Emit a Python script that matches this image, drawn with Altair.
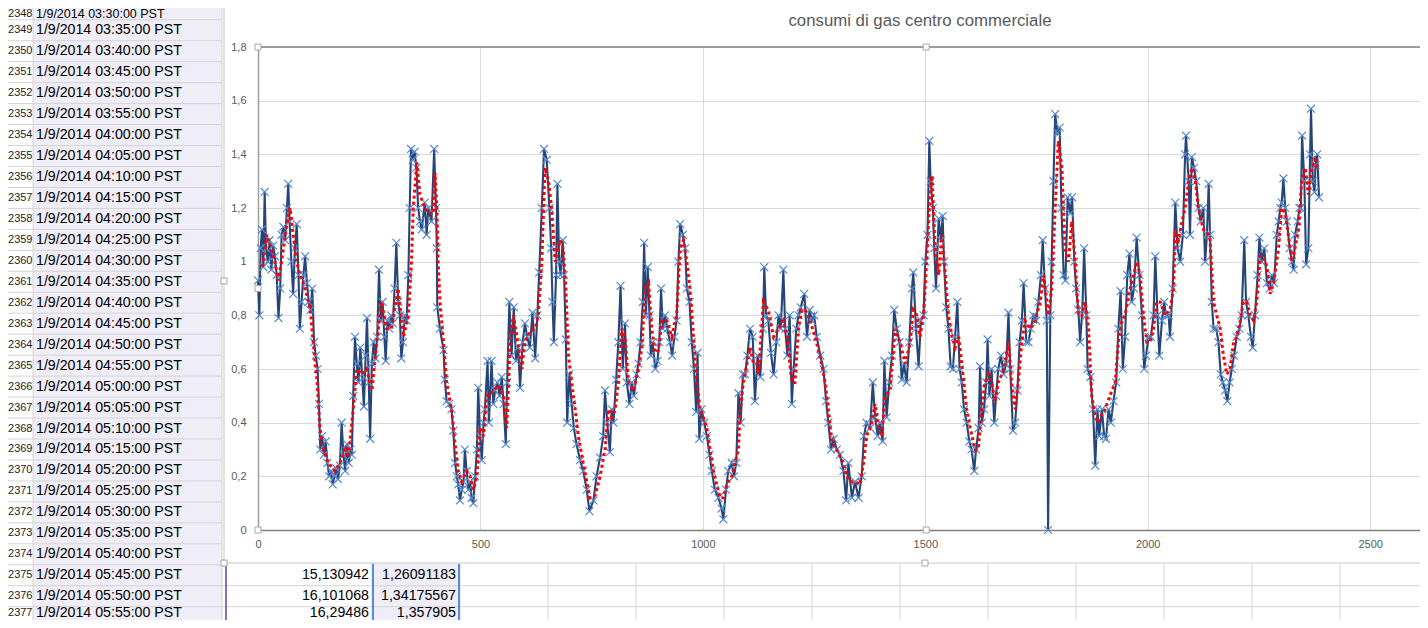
import altair as alt
import pandas as pd

# ---------------- chart data ----------------
title_text = "consumi di gas centro commerciale"
x_ticks = [0, 500, 1000, 1500, 2000, 2500]
y_ticks = [0, 0.2, 0.4, 0.6, 0.8, 1, 1.2, 1.4, 1.6, 1.8]

# blue series (measured consumption), several segments of (x, value)
blue_a = [(0,0.93),(3,0.80),(6,1.05),(9,1.12),(12,0.98),(15,1.26),(18,1.05),(22,1.00),(26,1.08),(30,0.97),
          (34,1.06),(38,1.02),(42,0.95),(46,0.79),(50,0.90),(53,1.10),(57,1.13),(61,1.08),(65,1.20),(68,1.29),
          (71,1.15),(75,1.00),(79,0.88),(83,1.05),(87,1.14),(91,0.95),(94,0.75),(98,0.85),(102,0.95),(106,1.02),
          (110,0.92),(114,0.85),(118,0.82),(122,0.90),(126,0.70),(130,0.65),(134,0.60),(137,0.47),(140,0.30),(144,0.35),
          (148,0.28),(152,0.33),(156,0.25),(160,0.20),(164,0.22),(168,0.17),(172,0.20),(176,0.23),(180,0.19),(184,0.24),
          (188,0.40),(192,0.28),(196,0.22),(200,0.32),(204,0.25),(208,0.30),(211,0.28),(214,0.50),(218,0.72),(222,0.62),
          (226,0.55),(230,0.68),(234,0.58),(238,0.46),(242,0.65),(245,0.79),(249,0.55),(252,0.34),(256,0.62),(260,0.70),
          (264,0.64),(268,0.72),(272,0.97),(276,0.78),(280,0.85),(284,0.72),(287,0.63),(291,0.78),(295,0.75),(299,0.80),
          (303,0.77),(307,0.90),(311,1.07),(315,0.85),(319,0.80),(322,0.64),(326,0.70),(330,0.80),(334,0.78),(338,0.95),
          (341,1.20),(344,1.42),(348,1.38),(352,1.41),(356,1.35),(360,1.20)]
blue_b = [(364,1.15),(368,1.12),(375,1.22),(379,1.10),(383,1.20),(390,1.15),(396,1.42),(400,1.20),(402,1.05),(403,0.83),
          (409,0.75),(417,0.67),(420,0.56),(424,0.48),(430,0.47),(435,0.45),(439,0.37),(443,0.25),(447,0.20),(450,0.17),
          (454,0.11),(458,0.15),(462,0.18),(465,0.30),(469,0.22),(473,0.15),(477,0.18),(480,0.12),(484,0.10),(488,0.20),
          (492,0.30),(495,0.53),(499,0.35),(503,0.26),(507,0.40),(510,0.45),(516,0.63),(519,0.40),(525,0.63),(529,0.47),
          (533,0.52),(538,0.55),(543,0.50),(548,0.57),(552,0.47),(557,0.32),(560,0.55),(565,0.85),(570,0.65),(575,0.83),
          (580,0.63),(585,0.68),(589,0.53),(595,0.70),(600,0.77),(605,0.72),(611,0.68),(617,0.81),(623,0.64),(628,0.80),
          (632,0.96),(638,1.20),(643,1.42),(649,1.38),(655,1.20),(659,1.05),(662,0.85),(665,0.70),(670,0.95),(673,1.29),
          (677,1.00),(680,0.95),(685,1.08),(688,0.95),(692,0.71),(695,0.40),(700,0.58),(705,0.47),(710,0.38),(716,0.32),
          (724,0.26),(731,0.22),(739,0.15),(745,0.07)]
blue_c = [(754,0.11),(761,0.20),(769,0.27),(776,0.35),(780,0.52),(785,0.40),(791,0.29),(795,0.45),(799,0.40),(805,0.56),
          (810,0.70),(815,0.91),(820,0.60),(825,0.77),(829,0.55),(835,0.47),(840,0.55),(845,0.50),(851,0.58),(855,0.62),
          (860,0.70),(865,0.85),(868,1.07),(872,0.80),(876,0.98),(880,0.80),(883,0.65),(887,0.70),(893,0.60),(898,0.63),
          (902,0.70),(906,0.90),(910,0.75),(915,0.80),(920,0.75),(926,0.70),(931,0.65),(936,0.72),(941,0.78),(945,1.00),
          (949,1.14),(955,1.10),(960,1.05),(964,0.90),(970,0.85),(975,0.70),(980,0.60),(985,0.44),(988,0.66),(992,0.34),
          (997,0.45),(1003,0.40),(1009,0.35),(1015,0.28),(1020,0.22),(1027,0.15),(1035,0.12),(1042,0.08),(1046,0.04),(1052,0.15),
          (1057,0.22),(1065,0.25),(1070,0.20),(1075,0.25),(1080,0.51),(1085,0.40),(1090,0.58),(1095,0.58),(1100,0.65),(1106,0.75),
          (1112,0.72),(1117,0.48),(1123,0.65)]
blue_d = [(1129,0.57),(1135,0.75),(1138,0.98),(1142,0.80),(1147,0.78),(1153,0.66),(1159,0.58),(1165,0.70),(1170,0.80),(1175,0.75),
          (1181,0.97),(1185,0.75),(1190,0.65),(1195,0.80),(1200,0.47),(1204,0.60),(1210,0.75),(1215,0.80),(1220,0.83),(1228,0.88),
          (1234,0.72),(1240,0.82),(1245,0.78),(1250,0.80),(1256,0.72),(1264,0.65),(1271,0.60),(1277,0.48),(1282,0.40),(1288,0.30),
          (1294,0.34),(1301,0.30),(1308,0.28),(1316,0.22),(1322,0.11),(1327,0.25),(1335,0.12),(1342,0.18),(1350,0.12),(1357,0.20),
          (1362,0.35),(1368,0.40),(1376,0.38),(1382,0.55),(1387,0.42),(1393,0.35),(1398,0.40),(1404,0.33),(1408,0.63),(1413,0.42),
          (1419,0.55),(1425,0.65),(1430,0.82),(1436,0.75),(1442,0.70),(1447,0.56),(1452,0.62),(1458,0.55),(1464,0.70),(1470,0.90),
          (1473,0.96),(1479,0.75),(1485,0.61),(1490,0.78),(1496,0.80),(1500,1.00)]
blue_e = [(1505,1.10),(1509,1.45),(1512,1.30),(1517,1.20),(1520,1.05),(1524,0.90),(1530,1.16),(1535,1.08),(1539,1.17),(1542,1.00),
          (1547,0.83),(1552,0.75),(1557,0.61),(1562,0.60),(1567,0.72),(1572,0.85),(1577,0.60),(1582,0.55),(1587,0.45),(1593,0.40),
          (1599,0.33),(1604,0.30),(1610,0.22),(1614,0.30),(1620,0.38),(1623,0.61),(1627,0.40),(1632,0.45),(1637,0.55),(1640,0.71),
          (1644,0.50),(1649,0.60),(1655,0.40),(1659,0.50),(1664,0.60),(1670,0.65),(1676,0.58),(1682,0.62),(1687,0.81),(1691,0.60),
          (1697,0.37),(1702,0.40),(1707,0.52),(1712,0.70),(1717,0.78),(1721,0.92),(1727,0.70),(1732,0.70),(1737,0.75),(1743,0.80),
          (1749,0.78),(1754,0.85),(1760,0.95),(1764,1.08),(1769,0.90),(1773,0.78),(1776,0.00),(1781,0.80),(1784,1.00),(1788,1.30),
          (1792,1.55),(1797,1.48),(1802,1.50),(1806,1.20),(1811,0.95),(1815,0.93),(1820,1.24),(1826,1.18),(1830,1.24),(1835,1.00),
          (1839,0.90),(1844,0.82),(1848,0.70),(1853,0.82),(1857,1.05),(1862,0.80),(1865,0.60),(1871,0.57),(1877,0.45),(1882,0.24)]
blue_f = [(1887,0.45),(1891,0.35),(1897,0.45),(1902,0.35),(1906,0.34),(1912,0.45),(1917,0.40),(1923,0.48),(1929,0.55),(1934,0.75),
          (1939,0.89),(1944,0.60),(1949,0.72),(1954,0.95),(1959,1.03),(1964,0.85),(1969,0.90),(1975,1.09),(1981,0.95),(1987,0.80),
          (1992,0.60),(1996,0.65),(2002,0.72),(2007,0.72),(2013,0.80),(2017,1.02),(2022,0.80),(2026,0.65),(2032,0.78),(2037,0.85),
          (2041,0.80),(2047,0.80),(2050,0.72),(2056,0.90),(2062,1.22),(2067,1.05),(2073,1.00),(2079,1.10),(2084,1.40),(2086,1.47),
          (2092,1.30),(2095,1.10),(2099,1.39),(2104,1.35),(2109,1.30),(2114,1.20),(2119,1.15),(2125,1.20),(2129,1.00),(2133,1.10),
          (2137,1.29),(2140,1.10),(2144,0.85),(2148,0.75),(2154,0.75),(2159,0.70),(2164,0.58),(2169,0.55),(2174,0.52),(2179,0.48),
          (2184,0.55),(2189,0.60),(2194,0.65),(2200,0.72),(2206,0.75),(2211,0.80),(2217,1.08),(2221,0.85),(2226,0.80),(2232,0.72),
          (2236,0.68),(2241,0.80),(2247,0.95),(2251,1.09),(2256,1.00),(2262,1.05),(2268,0.92),(2274,0.90),(2279,0.95),(2284,0.92),
          (2290,1.10),(2294,1.15),(2298,1.20),(2301,1.22),(2305,1.31),(2309,1.20),(2313,1.15),(2319,1.05),(2324,1.00),(2328,0.97),
          (2331,1.10),(2337,1.15),(2341,1.20),(2344,1.20),(2347,1.47),(2352,1.30),(2356,0.99),(2361,1.05),(2365,1.40),(2367,1.57),
          (2371,1.30),(2375,1.26),(2377,1.36),(2381,1.40),(2385,1.24)]

# red dotted moving-average trend line
red_a = [(10,0.98),(20,1.10),(34,1.03),(46,0.93),(53,1.00),(64,1.13),(72,1.20),(79,1.10),(87,1.00),(94,0.95),
         (102,0.92),(109,0.88),(117,0.83),(124,0.70),(133,0.55),(139,0.38),(147,0.30),(158,0.25),(173,0.22),(184,0.25),
         (196,0.30),(203,0.27),(214,0.45),(222,0.60),(233,0.58),(244,0.60),(256,0.52),(267,0.70),(278,0.85),(289,0.75),
         (300,0.75),(315,0.90),(327,0.72),(338,0.80),(345,1.00),(349,1.20),(357,1.37)]
red_b = [(364,1.25),(375,1.20),(383,1.18),(394,1.18),(398,1.33),(402,1.20),(405,1.00),(409,0.85),(417,0.70),(424,0.55),
         (435,0.45),(443,0.32),(450,0.22),(458,0.18),(469,0.22),(477,0.20),(484,0.15),(492,0.20),(499,0.38),(507,0.35),
         (514,0.50),(522,0.50),(529,0.52),(540,0.54),(552,0.50),(559,0.38),(567,0.70),(574,0.80),(582,0.72),(593,0.60),
         (600,0.70),(612,0.74),(623,0.75),(630,0.80),(638,1.00),(645,1.35),(653,1.30),(660,1.20),(668,1.00),(679,1.08),
         (686,1.05),(692,0.90),(698,0.65),(705,0.55),(713,0.45),(720,0.35),(731,0.25),(739,0.18)]
red_c = [(746,0.12),(758,0.13),(769,0.20),(780,0.30),(788,0.45),(795,0.42),(803,0.45),(810,0.55),(818,0.75),(825,0.72),
         (833,0.55),(844,0.52),(855,0.60),(863,0.68),(870,0.90),(878,0.92),(885,0.75),(893,0.66),(900,0.67),(908,0.78),
         (919,0.78),(930,0.72),(941,0.80),(949,1.05),(956,1.08),(964,1.00),(971,0.90),(979,0.72),(986,0.55),(994,0.45),
         (1001,0.42),(1009,0.38),(1016,0.30),(1024,0.22),(1031,0.17),(1039,0.12),(1046,0.12),(1054,0.17),(1065,0.20),(1072,0.25),
         (1080,0.30),(1084,0.45),(1091,0.55),(1099,0.62),(1106,0.68),(1114,0.62),(1121,0.62)]
red_d = [(1125,0.58),(1136,0.85),(1147,0.82),(1159,0.72),(1170,0.75),(1181,0.78),(1189,0.72),(1200,0.55),(1207,0.55),(1215,0.75),
         (1222,0.82),(1230,0.82),(1241,0.78),(1252,0.72),(1263,0.65),(1275,0.55),(1282,0.45),(1290,0.33),(1301,0.30),(1316,0.25),
         (1323,0.20),(1331,0.18),(1342,0.18),(1353,0.17),(1361,0.25),(1368,0.35),(1380,0.40),(1387,0.47),(1395,0.38),(1402,0.35),
         (1410,0.50),(1421,0.52),(1432,0.75),(1443,0.70),(1455,0.62),(1466,0.70),(1473,0.82),(1481,0.80),(1488,0.72),(1496,0.80),
         (1503,1.00),(1509,1.20)]
red_e = [(1515,1.32),(1522,1.05),(1530,0.95),(1537,1.10),(1545,0.95),(1552,0.80),(1560,0.72),(1567,0.68),(1575,0.72),(1582,0.62),
         (1593,0.45),(1601,0.38),(1612,0.30),(1619,0.30),(1627,0.45),(1634,0.55),(1642,0.58),(1649,0.55),(1657,0.48),(1664,0.55),
         (1672,0.58),(1679,0.62),(1687,0.70),(1694,0.55),(1702,0.45),(1709,0.55),(1717,0.70),(1724,0.78),(1736,0.75),(1747,0.78),
         (1758,0.85),(1766,0.95),(1777,0.80),(1784,0.90),(1792,1.20),(1799,1.45),(1807,1.35),(1814,1.05),(1822,1.00),(1829,1.15),
         (1837,1.00),(1844,0.80),(1852,0.80),(1859,0.85),(1867,0.75),(1874,0.50),(1882,0.42),(1889,0.40)]
red_f = [(1893,0.42),(1904,0.45),(1915,0.50),(1927,0.55),(1934,0.70),(1942,0.78),(1949,0.80),(1957,0.88),(1964,0.92),(1975,1.00),
         (1983,0.95),(1990,0.80),(1998,0.70),(2005,0.70),(2013,0.75),(2020,0.85),(2028,0.85),(2039,0.80),(2050,0.82),(2058,0.90),
         (2062,1.10),(2069,1.08),(2077,1.15),(2084,1.20),(2092,1.30),(2099,1.35),(2107,1.30),(2114,1.20),(2125,1.12),(2137,1.10),
         (2140,1.08),(2148,0.85),(2155,0.80),(2163,0.75),(2170,0.65),(2178,0.58),(2185,0.60),(2193,0.70),(2200,0.72),(2208,0.78),
         (2215,0.85),(2223,0.85),(2230,0.80),(2238,0.78),(2245,0.85),(2253,1.02),(2260,1.02),(2268,0.98),(2275,0.88),(2283,0.92),
         (2294,1.05),(2301,1.20),(2309,1.18),(2316,1.10),(2324,1.00),(2331,1.05),(2339,1.12),(2346,1.30),(2354,1.35),(2361,1.25),
         (2369,1.35),(2376,1.38),(2382,1.35)]

# spreadsheet content visible around the chart
sheet_rows = [2348, 2349, 2350, 2351, 2352, 2353, 2354, 2355, 2356, 2357, 2358, 2359, 2360, 2361, 2362,
              2363, 2364, 2365, 2366, 2367, 2368, 2369, 2370, 2371, 2372, 2373, 2374, 2375, 2376, 2377]
sheet_stamps = ["1/9/2014 03:30:00 PST", "1/9/2014 03:35:00 PST", "1/9/2014 03:40:00 PST", "1/9/2014 03:45:00 PST",
                "1/9/2014 03:50:00 PST", "1/9/2014 03:55:00 PST", "1/9/2014 04:00:00 PST", "1/9/2014 04:05:00 PST",
                "1/9/2014 04:10:00 PST", "1/9/2014 04:15:00 PST", "1/9/2014 04:20:00 PST", "1/9/2014 04:25:00 PST",
                "1/9/2014 04:30:00 PST", "1/9/2014 04:35:00 PST", "1/9/2014 04:40:00 PST", "1/9/2014 04:45:00 PST",
                "1/9/2014 04:50:00 PST", "1/9/2014 04:55:00 PST", "1/9/2014 05:00:00 PST", "1/9/2014 05:05:00 PST",
                "1/9/2014 05:10:00 PST", "1/9/2014 05:15:00 PST", "1/9/2014 05:20:00 PST", "1/9/2014 05:25:00 PST",
                "1/9/2014 05:30:00 PST", "1/9/2014 05:35:00 PST", "1/9/2014 05:40:00 PST", "1/9/2014 05:45:00 PST",
                "1/9/2014 05:50:00 PST", "1/9/2014 05:55:00 PST"]
bottom_rows = [2375, 2376, 2377]
col_c_text = ["15,130942", "16,101068", "16,29486"]
col_d_text = ["1,26091183", "1,34175567", "1,357905"]

# ---------------- layout / style ----------------
FONT = "Liberation Sans"
W, H = 1162, 483
XPATH = "M-1,-1L1,1M-1,1L1,-1"

SX = alt.Scale(domain=[0, 2612], nice=False, zero=False)
SY = alt.Scale(domain=[0, 1.8], nice=False, zero=False)
# sheet layers: x in page pixels, y in spreadsheet row units
SXP = alt.Scale(domain=[258, 1420], nice=False, zero=False)
SYR = alt.Scale(domain=[2349.799, 2372.842], nice=False, zero=False, reverse=True)

blue_pts = blue_a + blue_b + blue_c + blue_d + blue_e + blue_f
red_pts = red_a + red_b + red_c + red_d + red_e + red_f
blue_df = pd.DataFrame(blue_pts, columns=["x", "y"])
red_df = pd.DataFrame(red_pts, columns=["x", "y"])

x_axis = alt.Axis(values=x_ticks, grid=True, gridColor="#d9d9d9", domainColor="#808080", domainWidth=1.5,
                  ticks=False, labelColor="#595959", labelFontSize=11, labelFont=FONT, labelPadding=8,
                  labelFlush=False, labelOverlap=False, format="d", title=None)
y_axis = alt.Axis(values=y_ticks, grid=True, gridColor="#d9d9d9", domainColor="#a0a0a0", domainWidth=1.5,
                  ticks=False, labelColor="#595959", labelFontSize=11, labelFont=FONT, labelPadding=12,
                  labelFlush=False, labelOverlap=False, labelExpr="replace(toString(datum.value), '.', ',')",
                  title=None)

line_blue = alt.Chart(blue_df).mark_line(color="#264678", strokeWidth=2.1).encode(
    x=alt.X("x:Q", scale=SX, axis=x_axis), y=alt.Y("y:Q", scale=SY, axis=y_axis))
marks_blue = alt.Chart(blue_df).mark_point(shape=XPATH, filled=False, color="#5688cc", size=62,
                                           strokeWidth=1.2, opacity=1).encode(
    x=alt.X("x:Q", scale=SX), y=alt.Y("y:Q", scale=SY))
line_red = alt.Chart(red_df).mark_line(color="#ff0000", strokeWidth=3, strokeDash=[3, 3]).encode(
    x=alt.X("x:Q", scale=SX), y=alt.Y("y:Q", scale=SY))
top_rule = alt.Chart(pd.DataFrame({"y": [1.8]})).mark_rule(color="#808080", strokeWidth=1.5).encode(
    y=alt.Y("y:Q", scale=SY))
plot_handles = alt.Chart(pd.DataFrame({"x": [0, 0, 0, 1502, 1502], "y": [1.8, 0.9, 0, 1.8, 0]})).mark_square(
    size=36, fill="white", stroke="#a6a6a6", strokeWidth=1, opacity=1).encode(
    x=alt.X("x:Q", scale=SX), y=alt.Y("y:Q", scale=SY))
title_mark = alt.Chart(pd.DataFrame({"t": [title_text]})).mark_text(
    font=FONT, fontSize=16.8, color="#595959", align="center", baseline="middle").encode(
    x=alt.datum(1488, scale=SX), y=alt.datum(1.897, scale=SY), text="t:N")

main = alt.layer(line_blue, marks_blue, line_red, top_rule, plot_handles, title_mark)

# ---------------- spreadsheet around the chart ----------------
fills = pd.DataFrame([
    dict(x=33, x2=222, y=2347.5, y2=2377.5, c="#efedf8"),
    dict(x=372, x2=460, y=2374.45, y2=2377.5, c="#efedf8"),
])
segs = []
for r in range(2347, 2378):
    segs.append(dict(x=0, x2=222, y=r + 0.5, y2=r + 0.5))
for r in bottom_rows:
    segs.append(dict(x=222, x2=1428, y=r + 0.5, y2=r + 0.5))
for cx in [33, 222]:
    segs.append(dict(x=cx, x2=cx, y=2347.5, y2=2377.5))
for cx in [372, 460, 548, 636, 724, 812, 900, 988, 1076, 1164, 1252, 1340, 1428]:
    segs.append(dict(x=cx, x2=cx, y=2374.45, y2=2377.5))
segs_df = pd.DataFrame(segs)

accent = pd.DataFrame([
    dict(x=226, x2=226, y=2374.45, y2=2377.5, c="#8a6cc0"),
    dict(x=373, x2=373, y=2374.45, y2=2377.5, c="#5b8bd8"),
    dict(x=459, x2=459, y=2374.45, y2=2377.5, c="#5b8bd8"),
])
border = pd.DataFrame([
    dict(x=224, x2=224, y=2347.55, y2=2374.42),
    dict(x=224, x2=1428, y=2374.42, y2=2374.42),
])
chart_handles = pd.DataFrame({"x": [224, 224, 925, 925], "y": [2360.96, 2374.42, 2374.42, 2347.6]})

enc_seg = dict(x=alt.X("x:Q", scale=SXP, axis=None), x2="x2:Q",
               y=alt.Y("y:Q", scale=SYR, axis=None), y2="y2:Q")

fill_layer = alt.Chart(fills).mark_rect().encode(color=alt.Color("c:N", scale=None), **enc_seg)
grid_layer = alt.Chart(segs_df).mark_rule(color="#d4d4d4", strokeWidth=1).encode(**enc_seg)
accent_layer = alt.Chart(accent).mark_rule(strokeWidth=2).encode(color=alt.Color("c:N", scale=None), **enc_seg)
border_layer = alt.Chart(border).mark_rule(color="#c6c6c6", strokeWidth=1).encode(**enc_seg)
handle_layer = alt.Chart(chart_handles).mark_square(size=36, fill="white", stroke="#a6a6a6",
                                                     strokeWidth=1, opacity=1).encode(
    x=alt.X("x:Q", scale=SXP, axis=None), y=alt.Y("y:Q", scale=SYR, axis=None))

# text placement: the first and last rows sit at the very edge of the view, so nudge them inside
first_row, last_row = sheet_rows[0], sheet_rows[-1]
def text_y(r):
    if r == first_row:
        return r + 0.24
    if r == last_row:
        return r - 0.21
    return r

rows_df = pd.DataFrame({"row": sheet_rows, "stamp": sheet_stamps})
rows_df["ty"] = [text_y(r) for r in sheet_rows]
rows_df["fs"] = [12.5 if r == first_row else 14.2 for r in sheet_rows]
rows_df["rx"] = 32.5
rows_df["sx"] = 36

num_layer = alt.Chart(rows_df).mark_text(font=FONT, fontSize=11, color="#222222", align="right",
                                         baseline="middle").encode(
    x=alt.X("rx:Q", scale=SXP, axis=None), y=alt.Y("ty:Q", scale=SYR, axis=None), text="row:N")
stamp_layer = alt.Chart(rows_df).mark_text(font=FONT, color="#000000", align="left",
                                           baseline="middle").encode(
    x=alt.X("sx:Q", scale=SXP, axis=None), y=alt.Y("ty:Q", scale=SYR, axis=None), text="stamp:N",
    size=alt.Size("fs:Q", scale=None))

vals_df = pd.DataFrame({"row": bottom_rows, "c": col_c_text, "d": col_d_text})
vals_df["ty"] = [text_y(r) for r in bottom_rows]
vals_df["cx"] = 369
vals_df["dx"] = 456
c_layer = alt.Chart(vals_df).mark_text(font=FONT, fontSize=14.2, color="#000000", align="right",
                                       baseline="middle").encode(
    x=alt.X("cx:Q", scale=SXP, axis=None), y=alt.Y("ty:Q", scale=SYR, axis=None), text="c:N")
d_layer = alt.Chart(vals_df).mark_text(font=FONT, fontSize=14.2, color="#000000", align="right",
                                       baseline="middle").encode(
    x=alt.X("dx:Q", scale=SXP, axis=None), y=alt.Y("ty:Q", scale=SYR, axis=None), text="d:N")

sheet = alt.layer(fill_layer, grid_layer, accent_layer, border_layer, num_layer, stamp_layer,
                  c_layer, d_layer, handle_layer)

chart = alt.layer(sheet, main).resolve_scale(x="independent", y="independent").properties(
    width=W, height=H,
    autosize=alt.AutoSizeParams(type="none"),
    padding={"left": 250, "top": 39, "right": 0, "bottom": 90},
).configure_view(strokeWidth=0).configure(background="white")

chart.save("out.html", embed_options={"renderer": "svg", "actions": False})
